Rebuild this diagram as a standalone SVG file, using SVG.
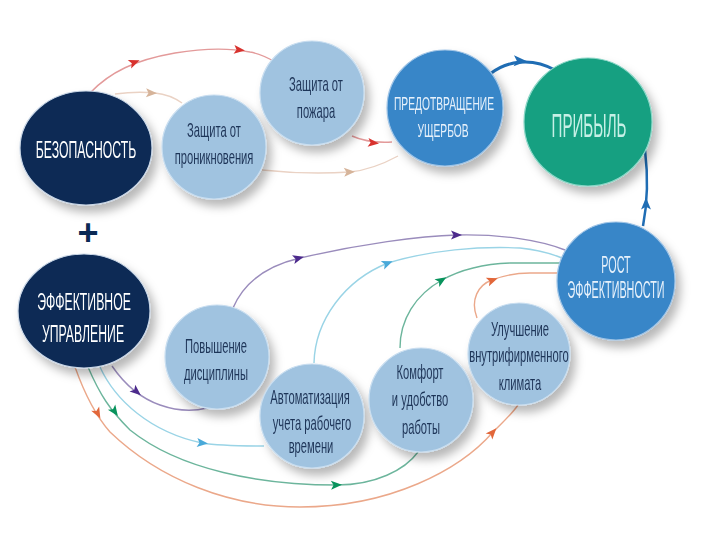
<svg xmlns="http://www.w3.org/2000/svg" xmlns:xlink="http://www.w3.org/1999/xlink" width="720" height="540" viewBox="0 0 720 540">
<style>
  .lt { fill: #a0c3e0; stroke: #c9def0; stroke-width: 1.2; }
  .dk { fill: #0b2a55; stroke: #c9d6e6; stroke-width: 1.2; }
  .md { fill: #3986c8; stroke: #9fc4e6; stroke-width: 1.2; }
  .gr { fill: #16a081; stroke: #8ad6c6; stroke-width: 1.2; }
  text { font-family: "Liberation Sans", Arial, sans-serif; text-anchor: middle; }
  .tl { fill: #1f3558; font-size: 20px; }
  .tw { fill: #ffffff; font-size: 24px; }
  .tm { fill: #e6f1fb; font-size: 19px; }
  .tr { fill: #e6f1fb; font-size: 24px; }
  .c { fill: none; stroke-width: 1.4; }
</style>
<defs>
  <filter id="sh" x="-30%" y="-30%" width="170%" height="170%">
    <feDropShadow dx="5" dy="7" stdDeviation="5" flood-color="#000" flood-opacity="0.28"/>
  </filter>
  <path id="ah" d="M5,0 L-6,-4.5 L-3.5,0 L-6,4.5 Z"/>
</defs>
<rect width="720" height="540" fill="#ffffff"/>

<g id="connectors">
  <path class="c" stroke="#e39a9a" d="M90,93 C110,72 135,60 175,53 C205,48 230,48 250,52 C262,54 270,59 277,63"/>
  <path class="c" stroke="#e39a9a" d="M352,136 C363,141 375,143 392,142"/>
  <path class="c" stroke="#ead2c4" d="M115,94 C130,92 145,92 155,93 C165,94 175,98 182,103"/>
  <path class="c" stroke="#ead2c4" d="M262,170 C290,173 320,174 350,172 C370,170 385,163 398,156"/>
  <use href="#ah" fill="#d8322e" transform="translate(135,62) rotate(-22)"/>
  <use href="#ah" fill="#d8322e" transform="translate(240,50) rotate(6)"/>
  <use href="#ah" fill="#d8322e" transform="translate(374,143) rotate(6)"/>
  <use href="#ah" fill="#d6b49a" transform="translate(152,93) rotate(2)"/>
  <use href="#ah" fill="#d6b49a" transform="translate(350,172) rotate(-3)"/>
  <path fill="none" stroke="#1f6db4" stroke-width="3" d="M490,74 C505,62 530,56 555,70"/>
  <use href="#ah" fill="#1f6db4" transform="translate(521,61) rotate(2) scale(1.2)"/>
  <path fill="none" stroke="#1f6db4" stroke-width="2.5" d="M643,226 C648,200 648,175 645,150"/>
  <use href="#ah" fill="#1f6db4" transform="translate(646,203) rotate(-90) scale(1.1)"/>
  <path class="c" stroke="#9a8cbc" d="M112,366 C125,385 140,398 160,405 C180,412 195,411 207,408"/>
  <path class="c" stroke="#9a8cbc" d="M233,308 C245,280 270,265 300,258 C360,244 420,236 457,235 C500,234 540,240 565,250"/>
  <use href="#ah" fill="#4c2a8c" transform="translate(137,392) rotate(40)"/>
  <use href="#ah" fill="#4c2a8c" transform="translate(299,258) rotate(-15)"/>
  <use href="#ah" fill="#4c2a8c" transform="translate(457,235) rotate(0)"/>
  <path class="c" stroke="#9ad4e6" d="M100,367 C115,400 150,432 202,443 C220,446 245,446 264,446"/>
  <path class="c" stroke="#9ad4e6" d="M314,363 C315,320 345,280 388,263 C430,250 480,246 520,248 C540,250 552,254 562,258"/>
  <use href="#ah" fill="#49a9d9" transform="translate(203,443) rotate(5)"/>
  <use href="#ah" fill="#49a9d9" transform="translate(388,263) rotate(-22)"/>
  <path class="c" stroke="#6cb59c" d="M88,367 C100,395 110,410 130,430 C180,470 260,485 337,485 C375,485 405,470 418,452"/>
  <path class="c" stroke="#6cb59c" d="M400,348 C400,320 415,295 442,280 C460,270 480,264 510,263 L562,263"/>
  <use href="#ah" fill="#08935c" transform="translate(115,412) rotate(55)"/>
  <use href="#ah" fill="#08935c" transform="translate(337,485) rotate(-2)"/>
  <use href="#ah" fill="#08935c" transform="translate(442,280) rotate(-32)"/>
  <path class="c" stroke="#eba88a" d="M75,367 C85,395 95,415 110,432 C160,480 230,507 300,507 C390,507 460,470 493,432 C505,420 512,414 518,405"/>
  <path class="c" stroke="#eba88a" d="M477,318 C470,300 478,285 492,280 C505,275 515,273 530,273 L563,273"/>
  <use href="#ah" fill="#e2673a" transform="translate(98,414) rotate(62)"/>
  <use href="#ah" fill="#e2673a" transform="translate(493,432) rotate(-48)"/>
  <use href="#ah" fill="#e2673a" transform="translate(493,280) rotate(-20)"/>
</g>

<g id="n-bezopasnost" filter="url(#sh)">
  <ellipse class="dk" cx="86" cy="148" rx="66" ry="57"/>
  <text class="tw" transform="translate(86,158) scale(0.51,1)">БЕЗОПАСНОСТЬ</text>
</g>

<g id="plus">
  <text x="88" y="245" font-size="36" font-weight="bold" fill="#0b2a55">+</text>
</g>

<g id="n-upravlenie" filter="url(#sh)">
  <ellipse class="dk" cx="84" cy="311" rx="66" ry="57"/>
  <text class="tw" transform="translate(84,310) scale(0.51,1)">ЭФФЕКТИВНОЕ</text>
  <text class="tw" transform="translate(83,342) scale(0.51,1)">УПРАВЛЕНИЕ</text>
</g>

<g id="n-proniknovenie" filter="url(#sh)">
  <circle class="lt" cx="214" cy="147" r="52"/>
  <text class="tl" transform="translate(214,137) scale(0.56,1)">Защита от</text>
  <text class="tl" transform="translate(214,164) scale(0.56,1)">проникновения</text>
</g>

<g id="n-pozhar" filter="url(#sh)">
  <circle class="lt" cx="312" cy="93" r="52"/>
  <text class="tl" transform="translate(316,91) scale(0.56,1)">Защита от</text>
  <text class="tl" transform="translate(316,118) scale(0.56,1)">пожара</text>
</g>

<g id="n-predotvrashchenie" filter="url(#sh)">
  <circle class="md" cx="445" cy="108" r="58"/>
  <text class="tm" transform="translate(444,110) scale(0.54,1)">ПРЕДОТВРАЩЕНИЕ</text>
  <text class="tm" transform="translate(443,137) scale(0.54,1)">УЩЕРБОВ</text>
</g>

<g id="n-pribyl" filter="url(#sh)">
  <circle class="gr" cx="588" cy="122" r="64"/>
  <text transform="translate(589,137) scale(0.445,1)" font-size="34" fill="#c6f0e6">ПРИБЫЛЬ</text>
</g>

<g id="n-rost" filter="url(#sh)">
  <circle class="md" cx="616" cy="281" r="59"/>
  <text class="tr" transform="translate(616,273) scale(0.45,1)">РОСТ</text>
  <text class="tr" transform="translate(616,298) scale(0.45,1)">ЭФФЕКТИВНОСТИ</text>
</g>

<g id="n-disciplina" filter="url(#sh)">
  <circle class="lt" cx="217" cy="357" r="52"/>
  <text class="tl" transform="translate(216,353) scale(0.56,1)">Повышение</text>
  <text class="tl" transform="translate(216,380) scale(0.56,1)">дисциплины</text>
</g>

<g id="n-avtomatizaciya" filter="url(#sh)">
  <circle class="lt" cx="312" cy="416" r="52"/>
  <text class="tl" transform="translate(310,404) scale(0.56,1)">Автоматизация</text>
  <text class="tl" transform="translate(312,430) scale(0.56,1)">учета рабочего</text>
  <text class="tl" transform="translate(311,453) scale(0.56,1)">времени</text>
</g>

<g id="n-komfort" filter="url(#sh)">
  <circle class="lt" cx="421" cy="400" r="52"/>
  <text class="tl" transform="translate(420,379) scale(0.56,1)">Комфорт</text>
  <text class="tl" transform="translate(420,406) scale(0.56,1)">и удобство</text>
  <text class="tl" transform="translate(421,434) scale(0.56,1)">работы</text>
</g>

<g id="n-klimat" filter="url(#sh)">
  <circle class="lt" cx="519" cy="354" r="51"/>
  <text class="tl" transform="translate(520,336) scale(0.56,1)">Улучшение</text>
  <text class="tl" transform="translate(519,362) scale(0.56,1)">внутрифирменного</text>
  <text class="tl" transform="translate(520,390) scale(0.56,1)">климата</text>
</g>
</svg>
